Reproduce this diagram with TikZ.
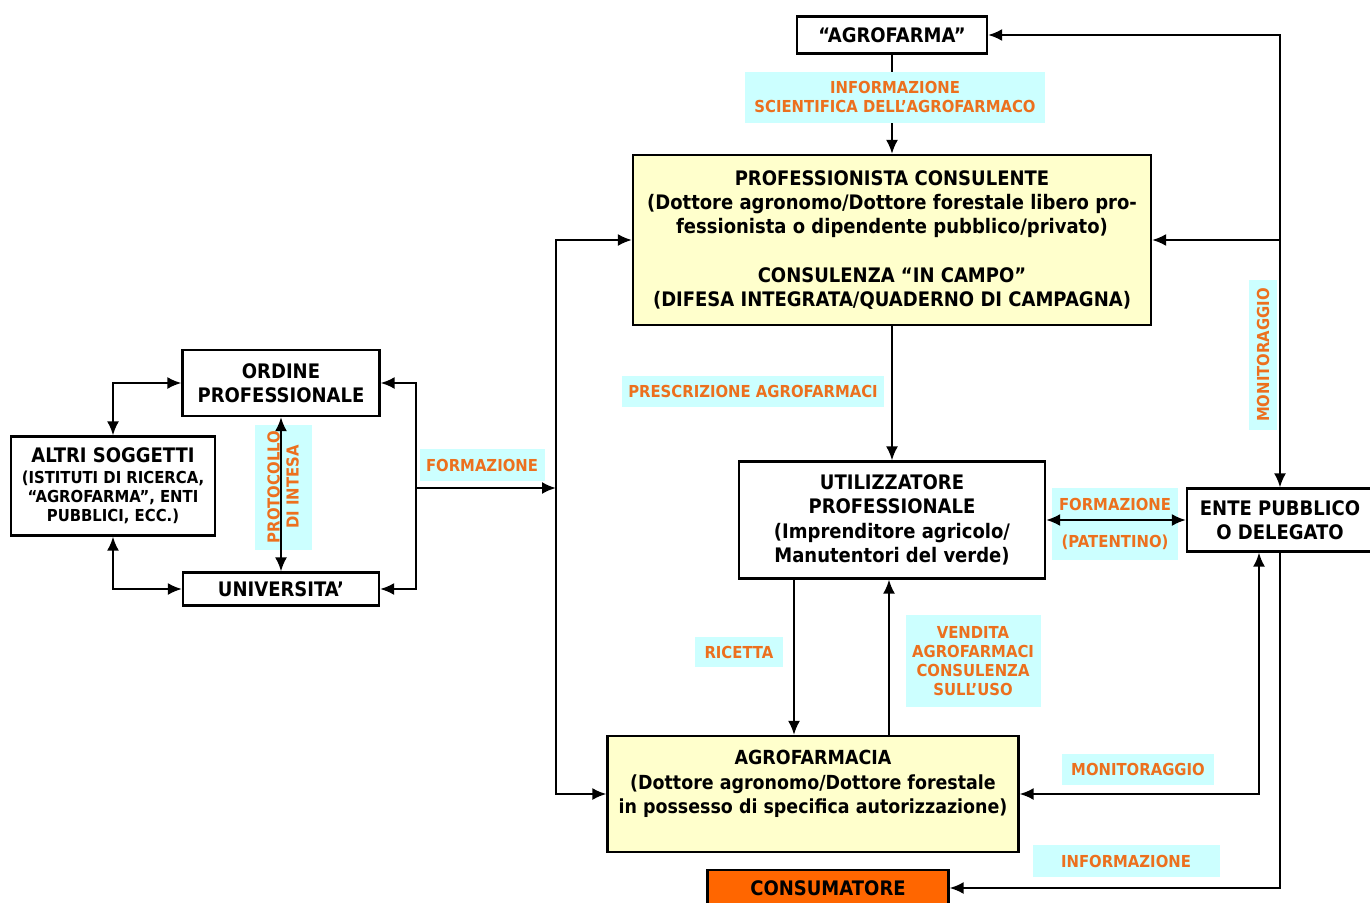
\documentclass[tikz,border=0pt]{standalone}
\usepackage{fontspec}
\setmainfont[FakeStretch=0.9]{DejaVu Sans}
\usepackage{tikz}
\usetikzlibrary{arrows.meta}
\definecolor{tagcyan}{RGB}{204,255,255}
\definecolor{tagorange}{RGB}{236,112,30}
\definecolor{boxyellow}{RGB}{255,255,204}
\definecolor{consorange}{RGB}{255,102,0}
\newcommand{\boxfont}{\fontsize{20}{24.3}\selectfont}
\newcommand{\smallboxfont}{\fontsize{16.5}{19}\selectfont}
\newcommand{\tagfont}{\fontsize{16.5}{19}\selectfont}
\tikzstyle{block} = [draw, rectangle, line width=2.2pt, align=center, inner sep=0pt, font=\bfseries\boxfont]
\tikzstyle{yblock} = [block, fill=boxyellow]
\tikzstyle{tag} = [rectangle, fill=tagcyan, text=tagorange, align=center, inner sep=0pt, font=\bfseries\tagfont]

\begin{document}
\begin{tikzpicture}[x=1pt, y=-1pt, line width=2.2pt, >={Latex[length=14pt,width=12pt]}]
    \path[use as bounding box] (0,0) rectangle (1370,902);
    % boxes
    \node [block, minimum width=190, minimum height=37] (agro) at (892,35) {“AGROFARMA”};
    \node [yblock, minimum width=518, minimum height=170] (prof) at (892,240)
      {PROFESSIONISTA CONSULENTE\\(Dottore agronomo/Dottore forestale libero pro-\\fessionista o dipendente pubblico/privato)\\[24pt]CONSULENZA “IN CAMPO”\\(DIFESA INTEGRATA/QUADERNO DI CAMPAGNA)};
    \node [block, minimum width=306, minimum height=117] (util) at (892,520)
      {UTILIZZATORE\\PROFESSIONALE\\(Imprenditore agricolo/\\Manutentori del verde)};
    \node [block, minimum width=186, minimum height=63] (ente) at (1280,520) {ENTE PUBBLICO\\O DELEGATO};
    \node [yblock, minimum width=411, minimum height=116, font=\bfseries\fontsize{19.4}{24.3}\selectfont] (agrof) at (813,794)
      {AGROFARMACIA\\(Dottore agronomo/Dottore forestale\\in possesso di specifica autorizzazione)\\ };
    \node [block, fill=consorange, minimum width=241, minimum height=36] (cons) at (828,888) {CONSUMATORE};
    \node [block, minimum width=197, minimum height=66] (ordine) at (281,383) {ORDINE\\PROFESSIONALE};
    \node [block, minimum width=196, minimum height=33] (univ) at (281,589) {UNIVERSITA’};
    \node [block, minimum width=204, minimum height=99] (altri) at (113,486)
      {ALTRI SOGGETTI\\[-4pt]\smallboxfont (ISTITUTI DI RICERCA,\\[-5pt]\smallboxfont “AGROFARMA”, ENTI\\[-5pt]\smallboxfont PUBBLICI, ECC.)};
    \coordinate (bus) at (556,488);
    \coordinate (fork) at (416,488);
    % connectors
    \draw [->] (agro) -- (prof);
    \draw [<->] (agro) -| (ente);
    \draw [->] (ente.north |- prof.east) -- (prof.east);
    \draw [->] (prof) -- (util);
    \draw [->] ([xshift=-98]util.south) -- ([xshift=-98]util.south |- agrof.north);
    \draw [->] ([xshift=-3]util.south |- agrof.north) -- ([xshift=-3]util.south);
    \draw [<->] (agrof.east) -| ([xshift=-21]ente.south);
    \draw [->] (ente.south) |- (cons.east);
    \draw [<->] (prof.west) -| (bus) |- (agrof.west);
    \draw [<->] (ordine.east) -| (fork) |- (univ.east);
    \draw [->] (fork) -- (bus);
    \draw [<->] (ordine.west) -| (altri.north);
    \draw [<->] (altri.south) |- (univ.west);
    % labels
    \node [tag, minimum width=300, minimum height=51] (infosci) at (895,97) {INFORMAZIONE\\SCIENTIFICA DELL’AGROFARMACO};
    \node [tag, rotate=90, minimum width=150, minimum height=28] (monit) at (1263,355) {MONITORAGGIO};
    \node [tag, minimum width=262, minimum height=31] (prescr) at (753,391) {PRESCRIZIONE AGROFARMACI};
    \node [tag, minimum width=126, minimum height=72] (patent) at (1115,524) {FORMAZIONE\\[18pt](PATENTINO)};
    \node [tag, minimum width=88, minimum height=30] (ricetta) at (739,652) {RICETTA};
    \node [tag, minimum width=135, minimum height=92] (vendita) at (973,661) {VENDITA\\AGROFARMACI\\CONSULENZA\\SULL’USO};
    \node [tag, minimum width=152, minimum height=31] (monitagr) at (1138,769) {MONITORAGGIO};
    \node [tag, minimum width=187, minimum height=32] (informaz) at (1126,861) {INFORMAZIONE};
    \node [tag, minimum width=125, minimum height=32] (formaz) at (482,465) {FORMAZIONE};
    \node [tag, rotate=90, minimum width=125, minimum height=57] (protoc) at (283,487) {PROTOCOLLO\\[0pt]DI INTESA};
    % arrows that cross their labels
    \draw [<->] (util) -- (ente);
    \draw [<->] (ordine) -- (univ);
\end{tikzpicture}
\end{document}
